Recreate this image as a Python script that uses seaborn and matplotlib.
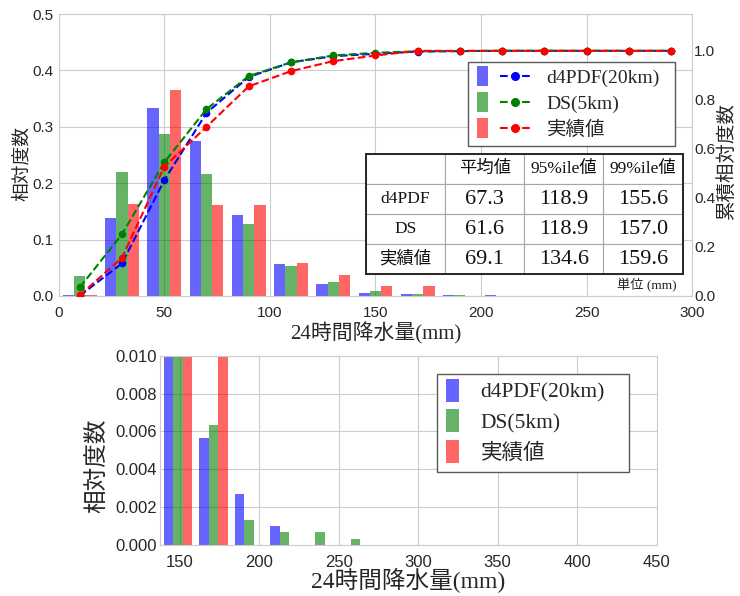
import numpy as np
import pandas as pd
import matplotlib
matplotlib.use('Agg')
from matplotlib import pyplot as plt
from matplotlib.legend_handler import HandlerBase
from matplotlib.patches import Rectangle
from matplotlib.lines import Line2D
import seaborn as sns

series_names = ['d4PDF(20km)', 'DS(5km)', '実績値']
bar_colors = ['blue', 'green', 'red']

# upper panel: 20 mm bins, centres
top_centers = [10, 30, 50, 70, 90, 110, 130, 150, 170, 190, 210, 230, 250, 270, 290]
d4pdf_freq = [0.001, 0.138, 0.334, 0.274, 0.144, 0.056, 0.021, 0.006, 0.004, 0.002, 0.001, 0, 0, 0, 0]
ds_freq = [0.035, 0.220, 0.288, 0.216, 0.128, 0.053, 0.025, 0.008, 0.004, 0.0013, 0.0007, 0.0007, 0.0003, 0, 0]
obs_freq = [0.002, 0.163, 0.366, 0.161, 0.161, 0.058, 0.037, 0.018, 0.018, 0, 0, 0, 0, 0, 0]

d4pdf_cum = [0.001, 0.133, 0.472, 0.747, 0.893, 0.953, 0.978, 0.988, 0.997, 0.999, 1.0, 1.0, 1.0, 1.0, 1.0]
ds_cum = [0.035, 0.252, 0.545, 0.762, 0.897, 0.953, 0.981, 0.992, 0.998, 0.999, 1.0, 1.0, 1.0, 1.0, 1.0]
obs_cum = [0.003, 0.156, 0.527, 0.690, 0.855, 0.917, 0.958, 0.981, 1.0, 1.0, 1.0, 1.0, 1.0, 1.0, 1.0]

# lower panel: tail, bins about 22.4 mm wide
low_centers = [148.6, 171.0, 193.4, 215.8, 238.2, 260.6]
low_d4pdf = [0.012, 0.00567, 0.00268, 0.00099, 0, 0]
low_ds = [0.014, 0.00634, 0.00134, 0.00067, 0.00067, 0.00032]
low_obs = [0.025, 0.018, 0, 0, 0, 0]

# statistics table
stat_rows = ['d4PDF', 'DS', '実績値']
stat_cols = ['平均値', '95%ile値', '99%ile値']
mean_vals = [67.3, 61.6, 69.1]
p95_vals = [118.9, 118.9, 134.6]
p99_vals = [155.6, 157.0, 159.6]


def long_df(x, cols, name):
    frames = []
    for s, vals in zip(series_names, cols):
        frames.append(pd.DataFrame({'x': x, name: vals, 'series': s}))
    return pd.concat(frames, ignore_index=True)


top_df = long_df(top_centers, [d4pdf_freq, ds_freq, obs_freq], 'freq')
cum_df = long_df(top_centers, [d4pdf_cum, ds_cum, obs_cum], 'cum')
low_df = long_df(low_centers, [low_d4pdf, low_ds, low_obs], 'freq')

sns.set_style('whitegrid')
plt.rcParams['font.family'] = ['Liberation Sans', 'Noto Sans CJK JP']
SERIF = ['Liberation Serif', 'Noto Sans CJK JP']
JP = ['Noto Sans CJK JP']


class BarLineHandler(HandlerBase):
    # narrow bar patch, optionally followed by a dashed line with a dot
    def create_artists(self, legend, orig_handle, xdescent, ydescent, width, height, fontsize, trans):
        bar_color, line_color = orig_handle
        rw, rh = 0.6 * fontsize, 1.05 * fontsize
        cy = height / 2 - ydescent
        rect = Rectangle((-xdescent + 0.05 * fontsize, cy - rh / 2), rw, rh,
                         facecolor=bar_color, alpha=0.6, lw=0, transform=trans)
        out = [rect]
        if line_color is not None:
            x0 = -xdescent + 1.25 * fontsize
            x1 = -xdescent + width
            out.append(Line2D([x0, x1], [cy, cy], color=line_color, ls='--', lw=1.5, transform=trans))
            out.append(Line2D([(x0 + x1) / 2], [cy], color=line_color, marker='o', ms=5.5,
                              ls='none', transform=trans))
        return out


fig = plt.figure(figsize=(7.4, 5.96), dpi=100)

# ---------- upper panel ----------
ax1 = fig.add_axes([0.0793, 0.5034, 0.856, 0.473])
sns.barplot(data=top_df, x='x', y='freq', hue='series', hue_order=series_names,
            palette=bar_colors, native_scale=True, errorbar=None, saturation=1,
            alpha=0.6, linewidth=0, legend=False, ax=ax1)
ax1.set_xlim(0, 300)
ax1.set_ylim(0, 0.5)
ax1.set_xticks([0, 50, 100, 150, 200, 250, 300])
ax1.set_yticks([0, 0.1, 0.2, 0.3, 0.4, 0.5])
ax1.yaxis.set_major_formatter(plt.FormatStrFormatter('%.1f'))
ax1.tick_params(labelsize=11)
ax1.tick_params(axis='y', length=0, pad=4)
ax1.set_xlabel('24時間降水量(mm)', family=SERIF, fontsize=15, labelpad=2)
ax1.set_ylabel('相対度数', family=JP, fontsize=13.5)
ax1.yaxis.set_label_coords(-0.043, 0.47)

ax2 = ax1.twinx()
sns.lineplot(data=cum_df, x='x', y='cum', hue='series', hue_order=series_names,
             palette=bar_colors, marker='o', markersize=5.5, markeredgewidth=0,
             linestyle='--', linewidth=1.5, errorbar=None, legend=False, ax=ax2)
ax2.grid(False)
ax2.set_ylim(0, 1.15)
ax2.set_yticks([0, 0.2, 0.4, 0.6, 0.8, 1.0])
ax2.yaxis.set_major_formatter(plt.FormatStrFormatter('%.1f'))
ax2.tick_params(labelsize=11, length=0, pad=1.5)
ax2.set_xlabel('')
ax2.set_ylabel('累積相対度数', family=JP, fontsize=14)
ax2.yaxis.set_label_coords(1.038, 0.48)
for sp in ax2.spines.values():
    sp.set_visible(False)

handles = [(c, c) for c in bar_colors]
leg = ax2.legend(handles, series_names, handler_map={tuple: BarLineHandler()},
                 loc='upper left', bbox_to_anchor=(0.646, 0.0, 0.327, 0.831), mode='expand',
                 borderaxespad=0, prop={'family': SERIF, 'size': 14}, handlelength=2.8,
                 handletextpad=0.85, labelspacing=0.4, fancybox=False, framealpha=1,
                 edgecolor='0.35')
leg.get_frame().set_linewidth(1.0)

cell_text = [[''] + stat_cols]
for r, m, a, b in zip(stat_rows, mean_vals, p95_vals, p99_vals):
    cell_text.append([r, f'{m:.1f}', f'{a:.1f}', f'{b:.1f}'])
tbl_box = [0.485, 0.077, 0.500, 0.4255]
tbl = ax2.table(cellText=cell_text, cellLoc='center', bbox=tbl_box)
tbl.auto_set_font_size(False)
tbl.set_zorder(5)
for (i, j), cell in tbl.get_celld().items():
    cell.set_edgecolor('0.65')
    cell.set_linewidth(0.8)
    cell.set_facecolor('white')
    txt = cell.get_text()
    txt.set_fontfamily(SERIF)
    txt.set_color('#111111')
    if i == 0 or j == 0:
        txt.set_fontsize(12.5)
    else:
        txt.set_fontsize(16)
ax2.add_patch(Rectangle((tbl_box[0], tbl_box[1]), tbl_box[2], tbl_box[3],
                        transform=ax2.transAxes, fill=False, ec='0.15', lw=1.4, zorder=6))
ax2.text(0.976, 0.043, '単位 (mm)', transform=ax2.transAxes, ha='right', va='center',
         family=SERIF, fontsize=9.5, color='#222222')

# ---------- lower panel ----------
ax3 = fig.add_axes([0.2162, 0.0856, 0.671, 0.3176])
sns.barplot(data=low_df, x='x', y='freq', hue='series', hue_order=series_names,
            palette=bar_colors, native_scale=True, errorbar=None, saturation=1,
            alpha=0.6, linewidth=0, legend=False, ax=ax3)
ax3.set_xlim(137.4, 450)
ax3.set_ylim(0, 0.01)
ax3.set_xticks([150, 200, 250, 300, 350, 400, 450])
ax3.set_yticks([0, 0.002, 0.004, 0.006, 0.008, 0.010])
ax3.yaxis.set_major_formatter(plt.FormatStrFormatter('%.3f'))
ax3.tick_params(labelsize=12)
ax3.tick_params(axis='y', length=0, pad=2)
ax3.set_xlabel('24時間降水量(mm)', family=SERIF, fontsize=17, labelpad=-1)
ax3.set_ylabel('相対度数', family=JP, fontsize=17)
ax3.yaxis.set_label_coords(-0.103, 0.42)

leg2 = ax3.legend([(c, None) for c in bar_colors], series_names,
                  handler_map={tuple: BarLineHandler()},
                  loc='upper left', bbox_to_anchor=(0.557, 0.0, 0.387, 0.903), mode='expand',
                  borderaxespad=0, prop={'family': SERIF, 'size': 15.5}, handlelength=0.75,
                  handletextpad=0.9, labelspacing=0.48, fancybox=False, framealpha=1,
                  edgecolor='0.35')
leg2.get_frame().set_linewidth(1.0)

fig.savefig('out.png', dpi=100)
